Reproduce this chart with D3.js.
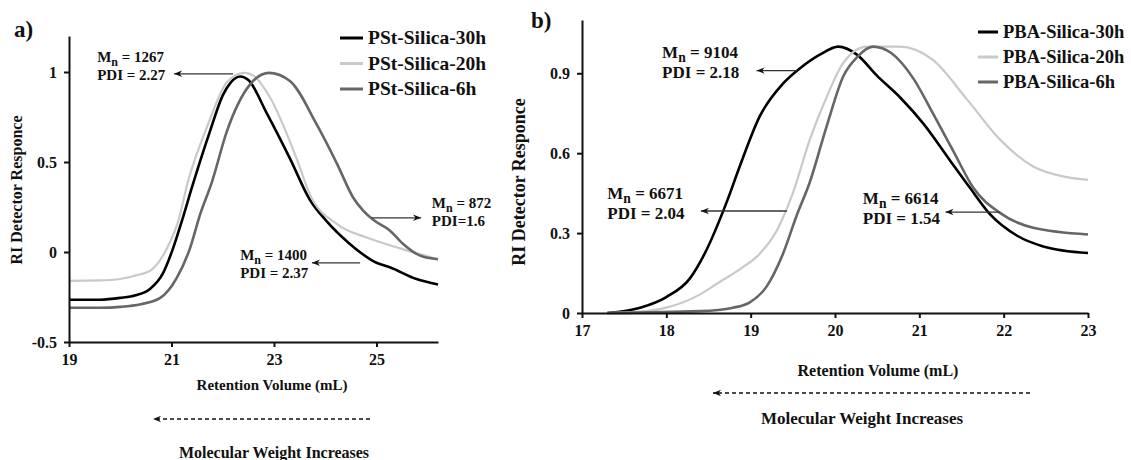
<!doctype html>
<html lang="en">
<head>
    <meta charset="UTF-8">
    <title>GPC traces</title>
    <script src="https://cdnjs.cloudflare.com/ajax/libs/d3/7.8.5/d3.min.js"></script>
    <style>
        html, body {
            margin: 0;
            padding: 0;
            background: #fff;
            overflow: hidden;
        }
        text {
            font-family: "Liberation Serif", "Times New Roman", serif;
            font-weight: bold;
            fill: #111;
        }
    </style>
</head>
<body>
<svg id="chart" width="1131" height="460"></svg>
<script>
    // ---- panel a: PSt-Silica, [retention volume, response]
    const pst30h = [[19,-0.265],[19.6,-0.265],[20.0,-0.255],[20.3,-0.24],[20.58,-0.205],[20.83,-0.12],[21.03,0.02],
        [21.2,0.17],[21.4,0.36],[21.75,0.67],[22.0,0.87],[22.15,0.94],[22.34,0.975],[22.5,0.955],[22.86,0.77],
        [23.31,0.52],[23.7,0.29],[24.03,0.17],[24.48,0.045],[25.0,-0.06],[25.26,-0.085],[25.78,-0.15],[26.2,-0.18]];
    const pst20h = [[19,-0.16],[19.6,-0.158],[20.0,-0.15],[20.3,-0.13],[20.58,-0.105],[20.91,0.02],[21.13,0.17],
        [21.32,0.39],[21.7,0.7],[22.1,0.95],[22.43,0.995],[22.6,0.98],[22.92,0.86],[23.44,0.52],[23.7,0.32],
        [24.23,0.155],[24.81,0.08],[25.46,0.02],[26.2,-0.04]];
    const pst6h = [[19,-0.31],[19.6,-0.31],[20.0,-0.305],[20.4,-0.29],[20.78,-0.255],[21.1,-0.145],[21.36,0.02],
        [21.56,0.21],[21.79,0.39],[22.08,0.67],[22.53,0.93],[22.9,0.995],[23.31,0.95],[23.83,0.71],[24.23,0.49],
        [24.55,0.3],[24.74,0.23],[24.93,0.18],[25.26,0.12],[25.52,0.045],[25.85,-0.02],[26.2,-0.04]];

    // ---- panel b: PBA-Silica
    const pba30h = [[17.3,0],[17.69,0.02],[18.0,0.06],[18.28,0.13],[18.45,0.22],[18.72,0.42],[18.87,0.55],
        [19.11,0.74],[19.38,0.86],[19.59,0.92],[19.82,0.97],[20.04,1.0],[20.26,0.97],[20.5,0.89],[20.77,0.81],
        [21.05,0.71],[21.37,0.57],[21.6,0.47],[21.84,0.37],[22.16,0.29],[22.47,0.25],[23.0,0.225]];
    const pba20h = [[17.3,0],[17.69,0.005],[18.0,0.02],[18.4,0.07],[18.6,0.11],[18.9,0.17],[19.1,0.22],
        [19.31,0.31],[19.5,0.45],[19.7,0.65],[19.9,0.81],[20.1,0.94],[20.38,1.0],[20.77,1.0],[21.16,0.95],
        [21.57,0.8],[21.96,0.65],[22.35,0.55],[22.75,0.51],[23.0,0.5]];
    const pba6h = [[17.3,0],[18.4,0.007],[18.79,0.02],[18.99,0.04],[19.19,0.1],[19.38,0.22],[19.55,0.37],
        [19.7,0.49],[19.9,0.7],[20.1,0.89],[20.26,0.96],[20.45,1.0],[20.67,0.975],[20.93,0.88],[21.16,0.75],
        [21.4,0.61],[21.64,0.47],[21.96,0.375],[22.35,0.32],[23.0,0.295]];

    const namesA = ["PSt-Silica-30h", "PSt-Silica-20h", "PSt-Silica-6h"];
    const namesB = ["PBA-Silica-30h", "PBA-Silica-20h", "PBA-Silica-6h"];
    const xTicksA = [19, 21, 23, 25];
    const yTicksA = [-0.5, 0, 0.5, 1];
    const xTicksB = [17, 18, 19, 20, 21, 22, 23];
    const yTicksB = [0, 0.3, 0.6, 0.9];

    // annotations: Mn, PDI text
    const mnA = ["1267", "872", "1400"];
    const pdiA = ["PDI = 2.27", "PDI=1.6", "PDI = 2.37"];
    const mnB = ["9104", "6671", "6614"];
    const pdiB = ["PDI = 2.18", "PDI = 2.04", "PDI = 1.54"];

    const colors = ["#000000", "#c9c9c9", "#666666"];
    const widths = [2.6, 2.2, 2.6];

    const svg = d3.select("#chart");
    const defs = svg.append("defs");
    defs.append("marker")
        .attr("id", "head")
        .attr("viewBox", "0 -5 10 10")
        .attr("refX", 10).attr("refY", 0)
        .attr("markerWidth", 11).attr("markerHeight", 8)
        .attr("markerUnits", "userSpaceOnUse")
        .attr("orient", "auto")
        .append("path")
        .attr("d", "M0,-4L10,0L0,4L3,0Z")
        .attr("fill", "#111");

    function drawPanel(opt) {
        const g = svg.append("g");
        const x = opt.x, y = opt.y;

        const line = d3.line()
            .x(d => x(d[0]))
            .y(d => y(d[1]))
            .curve(d3.curveMonotoneX);

        opt.series.forEach((s, i) => {
            g.append("path")
                .datum(s)
                .attr("d", line)
                .attr("fill", "none")
                .attr("stroke", colors[i])
                .attr("stroke-width", widths[i])
                .attr("stroke-linejoin", "round");
        });

        const xAxis = g.append("g")
            .attr("transform", "translate(0," + y(opt.yBase) + ")")
            .call(d3.axisBottom(x).tickValues(opt.xTicks).tickSize(5).tickSizeOuter(0).tickPadding(7).tickFormat(d => String(d)));
        const yAxis = g.append("g")
            .attr("transform", "translate(" + x(opt.xBase) + ",0)")
            .call(d3.axisLeft(y).tickValues(opt.yTicks).tickSize(5).tickSizeOuter(0).tickPadding(7).tickFormat(d => String(d)));
        [xAxis, yAxis].forEach(a => {
            a.selectAll("path, line").attr("stroke", "#111").attr("stroke-width", 2);
            a.selectAll("text").attr("font-size", opt.tickFont).attr("fill", "#111")
                .attr("font-family", "'Liberation Serif', serif").attr("font-weight", "bold");
        });

        // axis titles
        g.append("text")
            .attr("x", opt.xTitle[0]).attr("y", opt.xTitle[1])
            .attr("text-anchor", "middle")
            .attr("font-size", opt.titleFont)
            .text("Retention Volume (mL)");
        g.append("text")
            .attr("transform", "translate(" + opt.yTitle[0] + "," + opt.yTitle[1] + ") rotate(-90)")
            .attr("text-anchor", "middle")
            .attr("font-size", opt.yTitleFont)
            .text("RI Detector Responce");

        // panel letter
        g.append("text")
            .attr("x", opt.letterPos[0]).attr("y", opt.letterPos[1])
            .attr("font-size", 23)
            .text(opt.letter);

        // legend
        opt.names.forEach((n, i) => {
            const ly = opt.legend[1] + i * opt.legend[3];
            g.append("line")
                .attr("x1", opt.legend[0]).attr("x2", opt.legend[0] + opt.legend[2])
                .attr("y1", ly).attr("y2", ly)
                .attr("stroke", colors[i]).attr("stroke-width", 3);
            g.append("text")
                .attr("x", opt.legend[0] + opt.legend[2] + 5).attr("y", ly + 6)
                .attr("font-size", opt.legendFont)
                .text(n);
        });

        // annotations
        opt.notes.forEach((nt, i) => {
            const tx = x(nt.tx), ty = nt.ty;
            const t = g.append("text")
                .attr("x", tx).attr("y", ty)
                .attr("font-size", opt.noteFont);
            t.append("tspan").text("M");
            t.append("tspan").attr("dy", 4).attr("font-size", opt.noteFont * 0.8).text("n");
            t.append("tspan").attr("dy", -4).text(" = " + opt.mn[i]);
            g.append("text")
                .attr("x", tx).attr("y", ty + opt.noteFont * 1.2)
                .attr("font-size", opt.noteFont)
                .text(opt.pdi[i]);
            g.append("line")
                .attr("x1", x(nt.a0)).attr("x2", x(nt.a1))
                .attr("y1", y(nt.ay)).attr("y2", y(nt.ay))
                .attr("stroke", "#333").attr("stroke-width", 1.3)
                .attr("marker-end", "url(#head)");
        });

        // molecular weight arrow
        g.append("line")
            .attr("x1", opt.mw[1]).attr("x2", opt.mw[0])
            .attr("y1", opt.mw[2]).attr("y2", opt.mw[2])
            .attr("stroke", "#111").attr("stroke-width", 1.3)
            .attr("stroke-dasharray", "4,3")
            .attr("marker-end", "url(#head)");
        g.append("text")
            .attr("x", opt.mwText[0]).attr("y", opt.mwText[1])
            .attr("text-anchor", "middle")
            .attr("font-size", opt.titleFont + 1)
            .text("Molecular Weight Increases");
    }

    drawPanel({
        x: d3.scaleLinear().domain([19, 26.2]).range([69, 438]),
        y: d3.scaleLinear().domain([-0.5, 1.2]).range([342, 36]),
        xBase: 19, yBase: -0.5,
        series: [pst30h, pst20h, pst6h],
        names: namesA,
        xTicks: xTicksA, yTicks: yTicksA,
        tickFont: 16, titleFont: 15, yTitleFont: 16, legendFont: 19.5, noteFont: 15,
        xTitle: [272, 390], yTitle: [22, 190],
        letter: "a)", letterPos: [14, 37],
        legend: [340, 38, 23, 25.5],
        mn: mnA, pdi: pdiA,
        notes: [
            {tx: 19.55, ty: 62, a0: 22.2, a1: 21.05, ay: 0.99},
            {tx: 26.08, ty: 208, a0: 24.91, a1: 25.87, ay: 0.19},
            {tx: 22.34, ty: 260, a0: 24.68, a1: 23.74, ay: -0.06}
        ],
        mw: [153, 370, 419], mwText: [274, 458]
    });

    drawPanel({
        x: d3.scaleLinear().domain([17, 23]).range([582, 1088]),
        y: d3.scaleLinear().domain([0, 1.1]).range([313, 20]),
        xBase: 17, yBase: 0,
        series: [pba30h, pba20h, pba6h],
        names: namesB,
        xTicks: xTicksB, yTicks: yTicksB,
        tickFont: 16, titleFont: 16, yTitleFont: 18, legendFont: 18.5, noteFont: 17,
        xTitle: [878, 376], yTitle: [525, 182],
        letter: "b)", letterPos: [531, 28],
        legend: [978, 32, 20, 25],
        mn: mnB, pdi: pdiB,
        notes: [
            {tx: 17.95, ty: 58, a0: 19.55, a1: 19.07, ay: 0.91},
            {tx: 17.3, ty: 199, a0: 19.43, a1: 18.41, ay: 0.383},
            {tx: 20.33, ty: 204, a0: 21.96, a1: 21.31, ay: 0.379}
        ],
        mw: [713, 1030, 393], mwText: [862, 424]
    });
</script>
</body>
</html>
